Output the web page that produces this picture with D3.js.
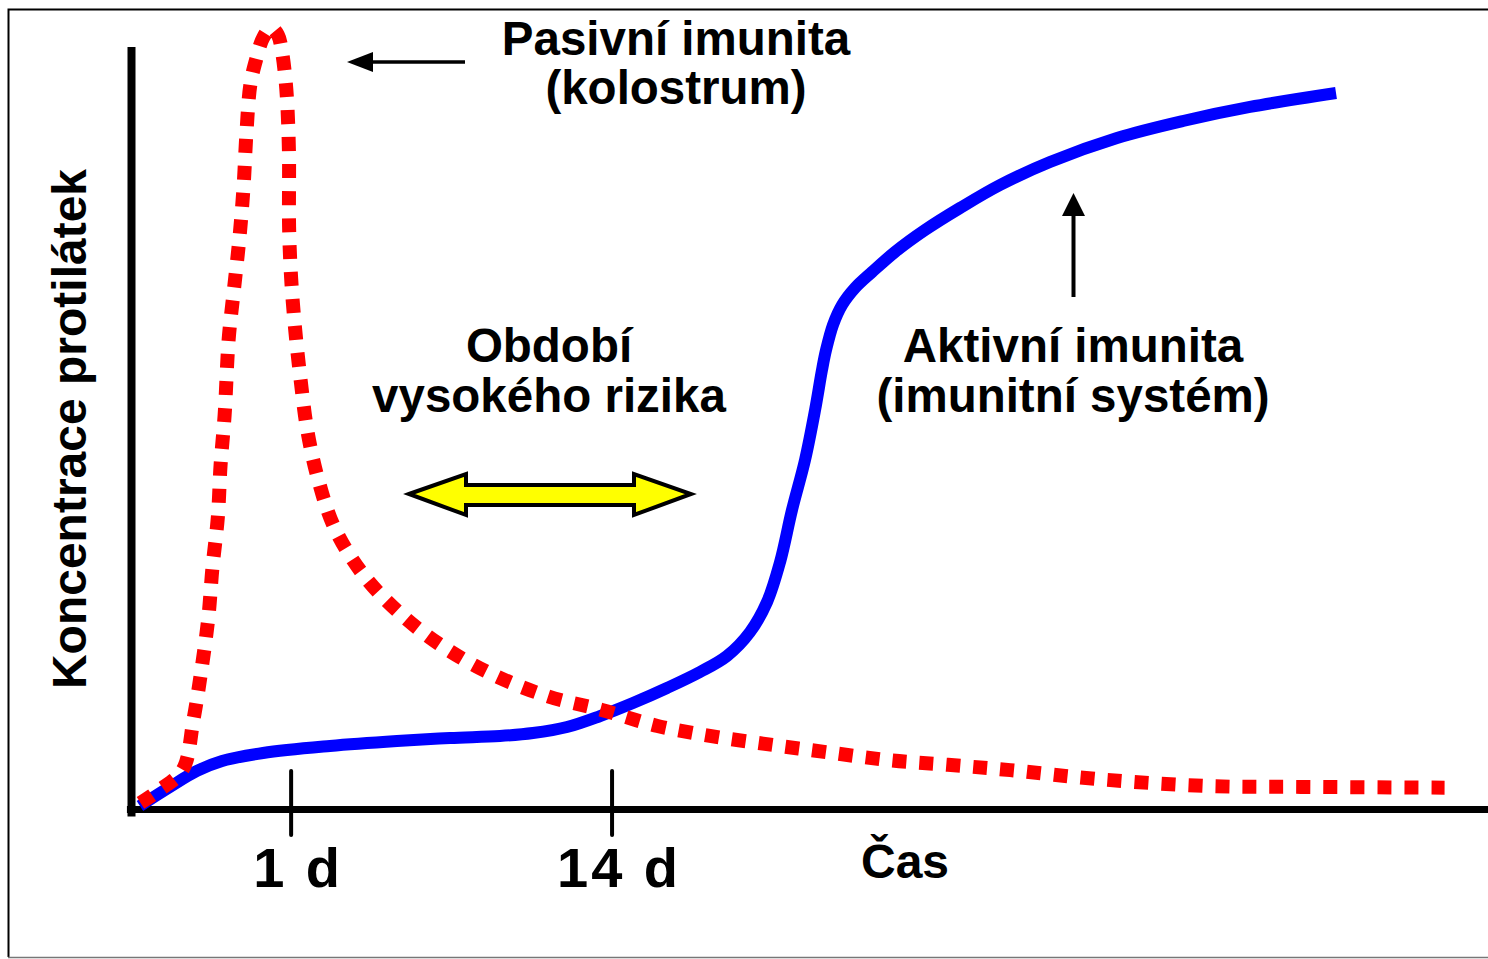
<!DOCTYPE html>
<html><head><meta charset="utf-8">
<script src="https://cdn.jsdelivr.net/npm/d3@7"></script>
<style>html,body{margin:0;padding:0;background:#fff;} svg{display:block;}</style>
</head><body><svg id="c" width="1488" height="959"></svg>
<script>
// ---- data (abstract time units 0..100, concentration units 0..100) ----
const tickValues = [11.8, 35.45];
const tickLabels = ["1 d", "14 d"];
const passiveT = [0.7,2.1,3.8,4.6,5.2,5.7,6.0,6.4,6.6,6.9,7.2,7.6,8.0,8.3,8.5,8.8,9.21,9.73,10.32,10.83,11.13,11.35,11.5,11.64,11.65,11.8,12.1,12.5,13.0,13.8,15.0,17.1,19.8,23.0,26.7,30.7,34.7,38.8,43.0,47.3,51.5,55.9,60.2,64.8,71.4,79.6,86.2,96.8];
const passiveLevel = [0.8,2.5,5.1,11.7,18.4,25.1,31.6,38.3,45.1,51.7,61.7,68.4,75.1,81.8,88.5,95.1,98.29,101.18,102.49,101.57,99.34,96.33,93.04,86.2,76.4,69.7,62.9,56.3,49.6,43.2,36.9,30.8,25.7,21.3,17.6,14.8,13.0,10.9,9.5,8.4,7.4,6.4,5.8,5.1,3.9,3.0,2.9,2.8];
const activeT = [0.66,2.87,4.86,6.71,9.73,14.66,19.6,23.51,27.19,29.62,32.13,34.56,36.99,39.5,41.93,43.92,45.62,46.87,47.83,48.71,49.67,50.41,50.92,51.22,51.73,52.4,53.35,54.61,56.3,58.51,61.09,64.04,67.72,72.66,77.52,82.46,88.8];
const activeLevel = [0.39,2.89,4.99,6.3,7.35,8.27,8.92,9.32,9.58,9.97,10.76,12.2,13.91,15.88,17.98,20.08,23.23,27.17,32.41,39.24,45.8,52.36,57.61,60.24,63.52,66.14,68.37,70.47,73.1,75.98,78.87,81.89,84.91,88.06,90.29,92.13,93.96];
const xLabel = "Čas";
const yLabel = "Koncentrace protilátek";
const passiveText = ["Pasivní imunita", "(kolostrum)"];
const riskText = ["Období", "vysokého rizika"];
const activeText = ["Aktivní imunita", "(imunitní systém)"];

const FONT = "'Liberation Sans', Arial, Helvetica, sans-serif";
const svg = d3.select("#c");
const x = d3.scaleLinear().domain([0, 100]).range([131, 1488]);
const y = d3.scaleLinear().domain([0, 100]).range([809, 47]);

// frame
svg.append("path").attr("d", "M1490,9.5 H8.5 V957").attr("fill", "none").attr("stroke", "#000").attr("stroke-width", 2);
svg.append("line").attr("x1", 8).attr("x2", 1488).attr("y1", 957.5).attr("y2", 957.5).attr("stroke", "#777").attr("stroke-width", 1.5);

// axes
svg.append("line").attr("x1", x(0) + 0.5).attr("x2", x(0) + 0.5).attr("y1", y(100)).attr("y2", y(-1))
  .attr("stroke", "#000").attr("stroke-width", 8);
svg.append("line").attr("x1", x(-0.3)).attr("x2", x(100)).attr("y1", y(0) + 0.5).attr("y2", y(0) + 0.5)
  .attr("stroke", "#000").attr("stroke-width", 7);

// ticks
const tg = svg.append("g");
tg.selectAll("line").data(tickValues).join("line")
  .attr("x1", d => x(d)).attr("x2", d => x(d))
  .attr("y1", y(0) - 38).attr("y2", y(0) + 26)
  .attr("stroke", "#000").attr("stroke-width", 4).attr("stroke-linecap", "round");
tg.selectAll("text").data(tickValues).join("text")
  .attr("x", d => x(d) + 7).attr("y", 887)
  .attr("text-anchor", "middle").attr("font-family", FONT).attr("font-weight", "bold")
  .attr("font-size", 56).attr("letter-spacing", 3).attr("fill", "#000")
  .text((d, i) => tickLabels[i]);

// axis labels
svg.append("text").attr("x", 905).attr("y", 878).attr("text-anchor", "middle")
  .attr("font-family", FONT).attr("font-weight", "bold").attr("font-size", 48).text(xLabel);
svg.append("text").attr("transform", "translate(86,429) rotate(-90)").attr("text-anchor", "middle")
  .attr("font-family", FONT).attr("font-weight", "bold").attr("font-size", 48).text(yLabel);

// curves
const line = d3.line().x(d => x(d[0])).y(d => y(d[1])).curve(d3.curveCatmullRom.alpha(0.5));
const activeData = activeT.map((t, i) => [t, activeLevel[i]]);
const passiveData = passiveT.map((t, i) => [t, passiveLevel[i]]);
svg.append("path").attr("d", line(activeData)).attr("fill", "none")
  .attr("stroke", "#0000ff").attr("stroke-width", 12).attr("stroke-linejoin", "round");
svg.append("path").attr("d", line(passiveData)).attr("fill", "none")
  .attr("stroke", "#ff0000").attr("stroke-width", 14).attr("stroke-dasharray", "14 13");

// text blocks
function block(lines, cx, y0, dy) {
  lines.forEach((t, i) => {
    svg.append("text").attr("x", cx).attr("y", y0 + i * dy).attr("text-anchor", "middle")
      .attr("font-family", FONT).attr("font-weight", "bold").attr("font-size", 47.5).attr("fill", "#000").text(t);
  });
}
block(passiveText, 676, 55, 49);
block(riskText, 549, 362, 50);
block(activeText, 1073, 362, 50);

// arrows
svg.append("line").attr("x1", 465).attr("x2", 368).attr("y1", 62).attr("y2", 62).attr("stroke", "#000").attr("stroke-width", 3.5);
svg.append("path").attr("d", "M347,62 L373,52 L373,72 Z").attr("fill", "#000");
svg.append("line").attr("x1", 1073.5).attr("x2", 1073.5).attr("y1", 297).attr("y2", 210).attr("stroke", "#000").attr("stroke-width", 4);
svg.append("path").attr("d", "M1073.5,193 L1062,216 L1085,216 Z").attr("fill", "#000");

// yellow double arrow
svg.append("path")
  .attr("d", "M409,494 L466,474 L466,485 L634,485 L634,474 L691,494 L634,515 L634,505 L466,505 L466,515 Z")
  .attr("fill", "#ffff00").attr("stroke", "#000").attr("stroke-width", 4).attr("stroke-linejoin", "miter");
</script></body></html>
